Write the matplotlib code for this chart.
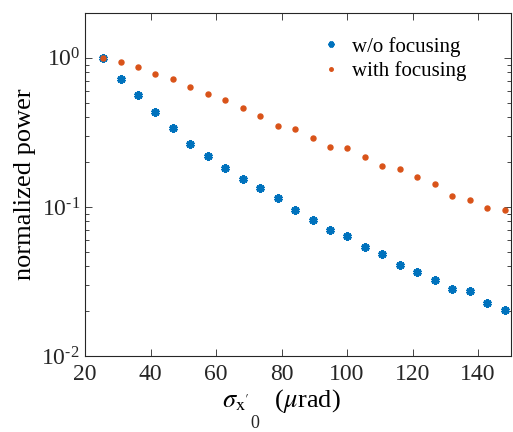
import matplotlib
matplotlib.use('Agg')
import matplotlib.pyplot as plt
from matplotlib.ticker import LogLocator, NullFormatter, FixedLocator, FixedFormatter

plt.rcParams['font.family'] = 'Liberation Serif'
plt.rcParams['mathtext.fontset'] = 'stix'

# beam divergence (urad)
sigma = [25.6, 30.9, 36.2, 41.5, 46.9, 52.2, 57.6, 62.8, 68.2, 73.5, 78.8, 84.1,
         89.5, 94.8, 100.1, 105.5, 110.8, 116.2, 121.4, 126.8, 132.1, 137.5, 142.7, 148.1]

# normalized power
p_nofocus = [1.0, 0.723, 0.559, 0.436, 0.337, 0.266, 0.219, 0.183, 0.153, 0.133, 0.114, 0.0955,
             0.0822, 0.0701, 0.0642, 0.0536, 0.0481, 0.0406, 0.0366, 0.0325, 0.0283, 0.0272,
             0.0227, 0.0202]
p_focus = [1.0, 0.940, 0.870, 0.785, 0.723, 0.642, 0.573, 0.520, 0.462, 0.408, 0.350, 0.334,
           0.289, 0.251, 0.250, 0.215, 0.187, 0.180, 0.158, 0.143, 0.119, 0.111, 0.098, 0.095]

yticks = [0.01, 0.1, 1.0]
ylabels = [r'$\mathregular{10^{\text{-}2}}$', r'$\mathregular{10^{\text{-}1}}$', r'$\mathregular{10^{0}}$']

fig = plt.figure(figsize=(5.13, 4.32), dpi=100)
ax = fig.add_axes([0.1657, 0.176, 0.830, 0.794])

ax.plot(sigma, p_nofocus, linestyle='none', marker=(6, 2, 0), markersize=6,
        markeredgewidth=2.2, color='#0072BD', label='w/o focusing', clip_on=False)
ax.plot(sigma, p_focus, linestyle='none', marker='o', markersize=3.6,
        color='#D95319', label='with focusing', clip_on=False)

ax.set_yscale('log')
ax.set_xlim(20, 150)
ax.set_ylim(0.01, 2.0)
ax.set_xticks([20, 40, 60, 80, 100, 120, 140])
ax.yaxis.set_major_locator(FixedLocator(yticks))
ax.yaxis.set_major_formatter(FixedFormatter(ylabels))
ax.yaxis.set_minor_locator(LogLocator(base=10, subs=range(2, 10), numticks=10))
ax.yaxis.set_minor_formatter(NullFormatter())

ax.tick_params(which='both', direction='in', top=True, right=True, labelsize=17,
               colors='#262626')
ax.tick_params(axis='x', pad=6)
ax.tick_params(which='major', length=5, width=0.6)
ax.tick_params(which='minor', length=3, width=0.6)
for s in ax.spines.values():
    s.set_linewidth(0.8)
    s.set_color('#262626')

ax.set_ylabel('normalized power', fontsize=19, labelpad=4)
ax.set_xlabel(r"$\sigma_{\mathrm{x'}}\quad\;$($\mu$rad)", fontsize=19)
ax.xaxis.set_label_coords(0.46, -0.09, transform=ax.transAxes)
ax.xaxis.label.set_va('top')
# second-level subscript of the x label, set lower than mathtext would put it
fig.text(0.497, 0.0, '0', fontsize=13, ha='center', va='bottom', color='#262626')

leg = ax.legend(loc='upper left', bbox_to_anchor=(0.50, 0.985), frameon=False, fontsize=15,
                handletextpad=0.3, handlelength=1.4, markerscale=0.7, labelspacing=0.2)

fig.savefig('out.png', dpi=100)
